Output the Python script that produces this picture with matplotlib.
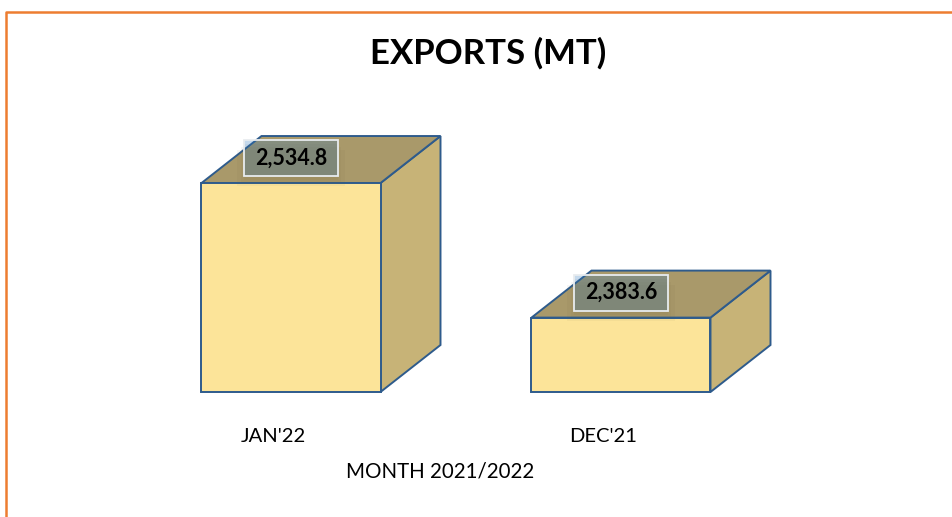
import matplotlib.pyplot as plt
from matplotlib.patches import Polygon, Rectangle
from matplotlib.lines import Line2D

months = ["JAN'22", "DEC'21"]
exports = [2534.8, 2383.6]
value_labels = ["2,534.8", "2,383.6"]

W, H = 953, 517
fig = plt.figure(figsize=(W / 100, H / 100), dpi=100)
ax = fig.add_axes([0, 0, 1, 1])
ax.axis('off')

# axis mapping (pixel -> data)
x0_px, step_px = 273, 330
base_val, px_per_val = 2300, 0.89
base_px = 392
ax.set_xlim(-x0_px / step_px, (W - x0_px) / step_px)
ax.set_ylim(base_val - (H - base_px) / px_per_val, base_val + base_px / px_per_val)

front = '#FCE499'
top_c = '#A9996A'
side_c = '#C7B377'
edge = '#2E5B8C'

shift = 18 / step_px
bw = 179 / step_px
ddx = 60 / step_px
ddy = 47 / px_per_val

for i, v in enumerate(exports):
    xl = i + shift - bw / 2
    xr = xl + bw
    b = base_val
    # side face
    ax.add_patch(Polygon([(xr, b), (xr + ddx, b + ddy), (xr + ddx, v + ddy), (xr, v)],
                         closed=True, fc=side_c, ec=edge, lw=1.4, zorder=2))
    # top face
    ax.add_patch(Polygon([(xl, v), (xr, v), (xr + ddx, v + ddy), (xl + ddx, v + ddy)],
                         closed=True, fc=top_c, ec=edge, lw=1.4, zorder=2))
    # front face
    ax.add_patch(Rectangle((xl, b), bw, v - b, fc=front, ec=edge, lw=1.4, zorder=3))

    # data label box
    cx = i + shift
    cy = v + 25 / px_per_val
    hw = 47 / step_px
    hh = 18 / px_per_val
    for k in range(3):
        off = (4 + 3 * k) / px_per_val
        ax.add_patch(Rectangle((cx - hw - 0.01 * k, cy - hh - off), 2 * hw + 0.02 * k, 2 * hh,
                               fc='#6b5e3a', ec='none', alpha=0.05, zorder=4))
    ax.add_patch(Rectangle((cx - hw, cy - hh), 2 * hw, 2 * hh, fc='#2973B9', alpha=0.27,
                           ec='none', zorder=5))
    ax.add_patch(Rectangle((cx - hw, cy - hh), 2 * hw, 2 * hh, fc='none',
                           ec='#E8ECEF', lw=1.3, zorder=6))
    ax.text(cx, cy, value_labels[i], ha='center', va='center', fontsize=15.5,
            fontweight='bold', family='Lato', color='black', zorder=7)

    # category label
    ax.text(i, base_val - 45 / px_per_val, months[i], ha='center', va='center',
            fontsize=14.5, family='Lato', color='black')

ax.text((440 - x0_px) / step_px, base_val - 80 / px_per_val, 'MONTH 2021/2022',
        ha='center', va='center', fontsize=14.8, family='Lato', color='black')

fig.text(488 / W, 1 - 53 / H, 'EXPORTS (MT)', ha='center', va='center',
         fontsize=25, fontweight='bold', family='Lato', color='black')

# orange frame (clipped at right and bottom)
fig.add_artist(Line2D([6 / W, 6 / W, 1.0], [0.0, 1 - 12 / H, 1 - 12 / H],
                      transform=fig.transFigure, color='#ED7D31', lw=1.8))

fig.savefig('out.png', dpi=100)
